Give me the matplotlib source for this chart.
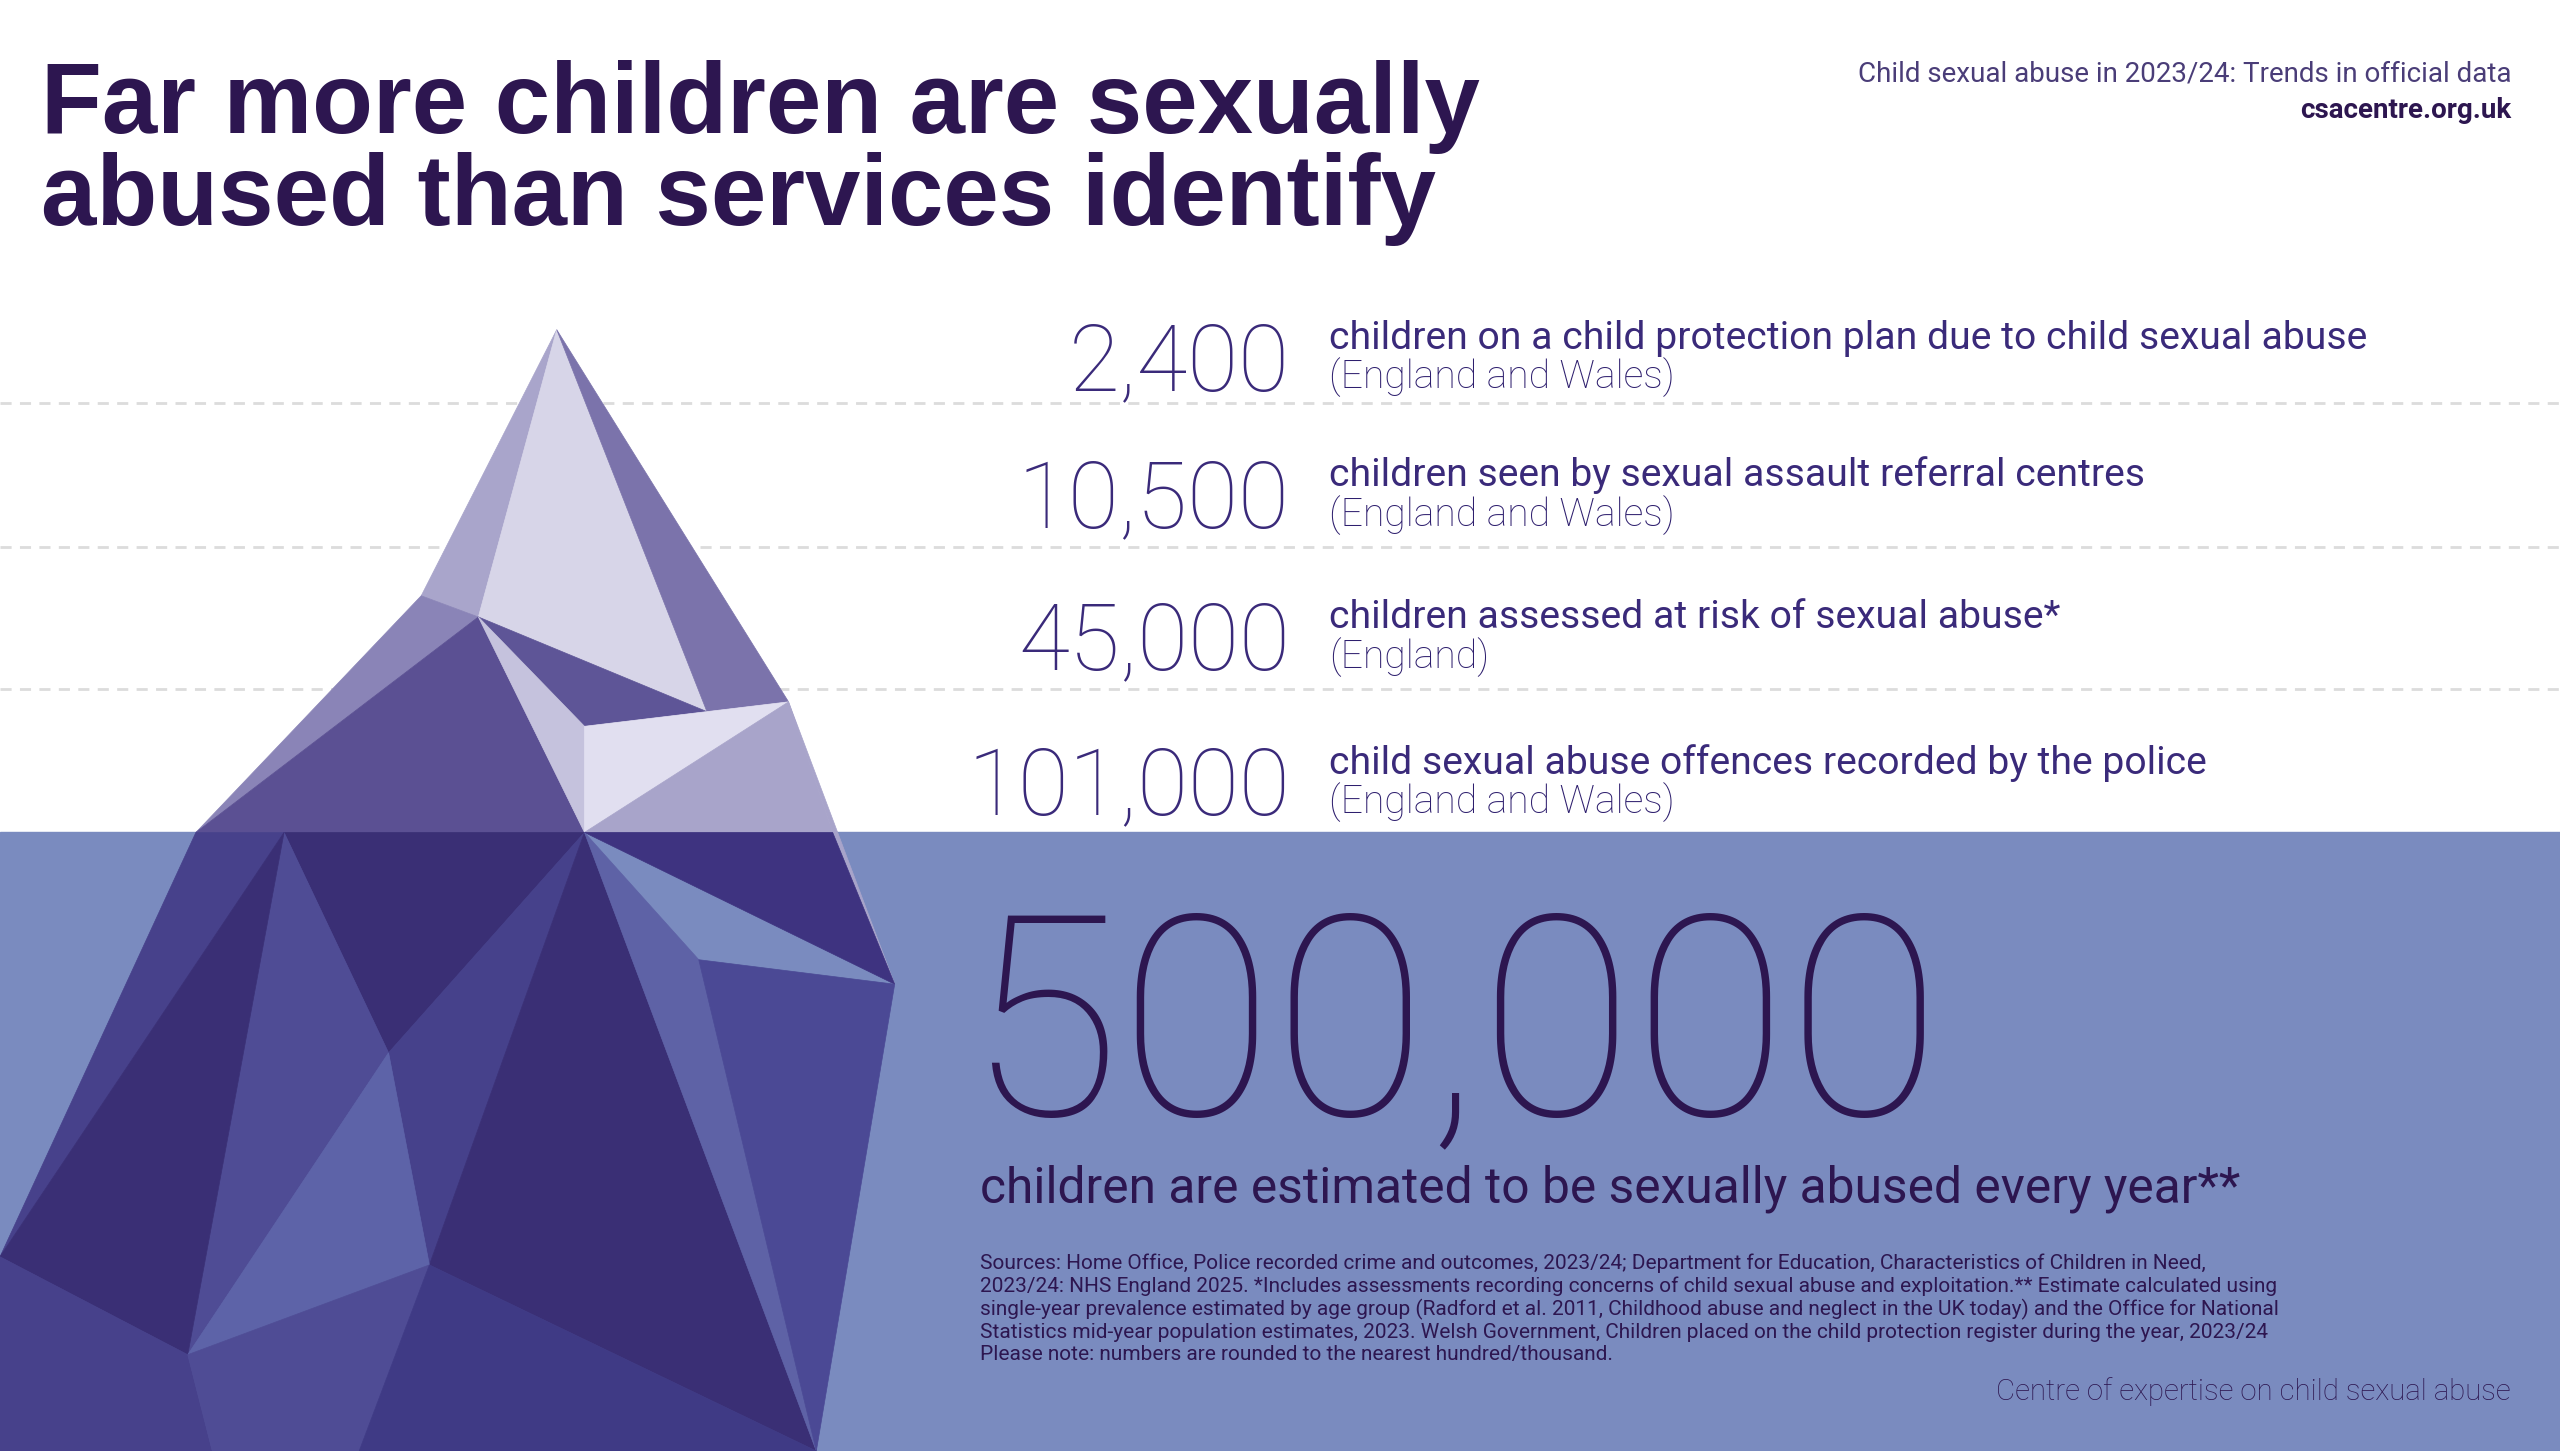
import matplotlib
matplotlib.use("Agg")
import matplotlib.pyplot as plt
from matplotlib.patches import Polygon, Rectangle

counts = [2400, 10500, 45000, 101000]
descriptions = ["children on a child protection plan due to child sexual abuse",
                "children seen by sexual assault referral centres",
                "children assessed at risk of sexual abuse*",
                "child sexual abuse offences recorded by the police"]
regions = ["(England and Wales)", "(England and Wales)", "(England)", "(England and Wales)"]
total = 500000
total_label = "children are estimated to be sexually abused every year**"
title = "Far more children are sexually\nabused than services identify"
sources = ("Sources: Home Office, Police recorded crime and outcomes, 2023/24; Department for Education, Characteristics of Children in Need,\n"
           "2023/24: NHS England 2025. *Includes assessments recording concerns of child sexual abuse and exploitation.** Estimate calculated using\n"
           "single-year prevalence estimated by age group (Radford et al. 2011, Childhood abuse and neglect in the UK today) and the Office for National\n"
           "Statistics mid-year population estimates, 2023. Welsh Government, Children placed on the child protection register during the year, 2023/24\n"
           "Please note: numbers are rounded to the nearest hundred/thousand.")

W, H = 1568, 889
fig = plt.figure(figsize=(25.6, 14.51), dpi=100)
ax = fig.add_axes([0, 0, 1, 1])
ax.set_xlim(0, W); ax.set_ylim(H, 0); ax.axis("off")

def fs(px):
    return px * (2560 / W) / (100 / 72)

DARK = "#2d1650"; TXT = "#3a2a7a"; WATER = "#7a8bbf"

ax.add_patch(Rectangle((0, 510), W, H - 510, color=WATER, zorder=0))
for y in [247, 335, 422]:
    ax.plot([0, W], [y, y], ls=(0, (4, 3)), color="#dcdcdc", lw=2, zorder=0)

polys = [
    ([(341,202),(258,365),(293,378)], "#a9a5cb"),
    ([(341,202),(293,378),(433,436)], "#d7d5e8"),
    ([(341,202),(433,436),(483,430)], "#7b73ab"),
    ([(258,365),(120,510),(293,378)], "#8a84b7"),
    ([(293,378),(120,510),(358,510)], "#5b5093"),
    ([(293,378),(358,445),(433,436)], "#5e5597"),
    ([(293,378),(358,445),(358,510)], "#c5c2dd"),
    ([(358,445),(483,430),(358,510)], "#e1dff0"),
    ([(483,430),(358,510),(510,510)], "#a8a4ca"),
    ([(483,430),(510,510),(548,603)], "#a8a4ca"),
    ([(120,510),(174,510),(0,770)], "#47418b"),
    ([(174,510),(358,510),(238,645)], "#3a2f75"),
    ([(174,510),(238,645),(115,830)], "#4f4c95"),
    ([(174,510),(115,830),(0,770)], "#3a2f75"),
    ([(358,510),(510,510),(548,603)], "#3e3380"),
    ([(358,510),(238,645),(263,775)], "#46418b"),
    ([(358,510),(263,775),(500,889)], "#3a2f75"),
    ([(358,510),(428,588),(500,889)], "#5e62a6"),
    ([(428,588),(548,603),(500,889)], "#4b4995"),
    ([(238,645),(115,830),(263,775)], "#5d63a8"),
    ([(0,770),(115,830),(130,889),(0,889)], "#47418b"),
    ([(115,830),(263,775),(220,889),(130,889)], "#4f4c95"),
    ([(263,775),(500,889),(220,889)], "#3f3a85"),
]
for pts, c in polys:
    ax.add_patch(Polygon(pts, closed=True, facecolor=c, edgecolor=c, lw=0.5, zorder=1))

ax.text(25, 138, title, fontsize=fs(61), fontweight="bold", color=DARK,
        family="Liberation Sans", va="baseline", linespacing=0.98)
ax.text(1538, 50, "Child sexual abuse in 2023/24: Trends in official data", fontsize=fs(17),
        color="#4a3d78", ha="right", family="Roboto")
ax.text(1538, 72, "csacentre.org.uk", fontsize=fs(17), color=DARK, ha="right",
        family="Roboto", fontweight="bold")

base = [239, 323, 410, 499]
for v, d, r, b in zip(counts, descriptions, regions, base):
    ax.text(790, b, f"{v:,}", fontsize=fs(57), color=TXT, ha="right", va="baseline",
            family="Roboto", fontweight="light")
    ax.text(814, b - 25, d, fontsize=fs(24), color=TXT, va="baseline", family="Roboto")
    ax.text(814, b - 1, r, fontsize=fs(24), color="#2e1f6e", va="baseline",
            family="Roboto", fontweight="light")

ax.text(592, 683, f"{total:,}", fontsize=fs(172), color=DARK, va="baseline",
        family="Roboto", fontweight="light")
ax.text(600, 737, total_label, fontsize=fs(30.5), color=DARK, va="baseline", family="Roboto")
ax.text(600, 768, sources, fontsize=fs(12.8), color=DARK, va="top", family="Roboto",
        linespacing=1.2)
ax.text(1538, 858, "Centre of expertise on child sexual abuse", fontsize=fs(18),
        color=DARK, ha="right", va="baseline", family="Roboto", fontweight="light")

fig.savefig("out.png", dpi=100, facecolor="white")
